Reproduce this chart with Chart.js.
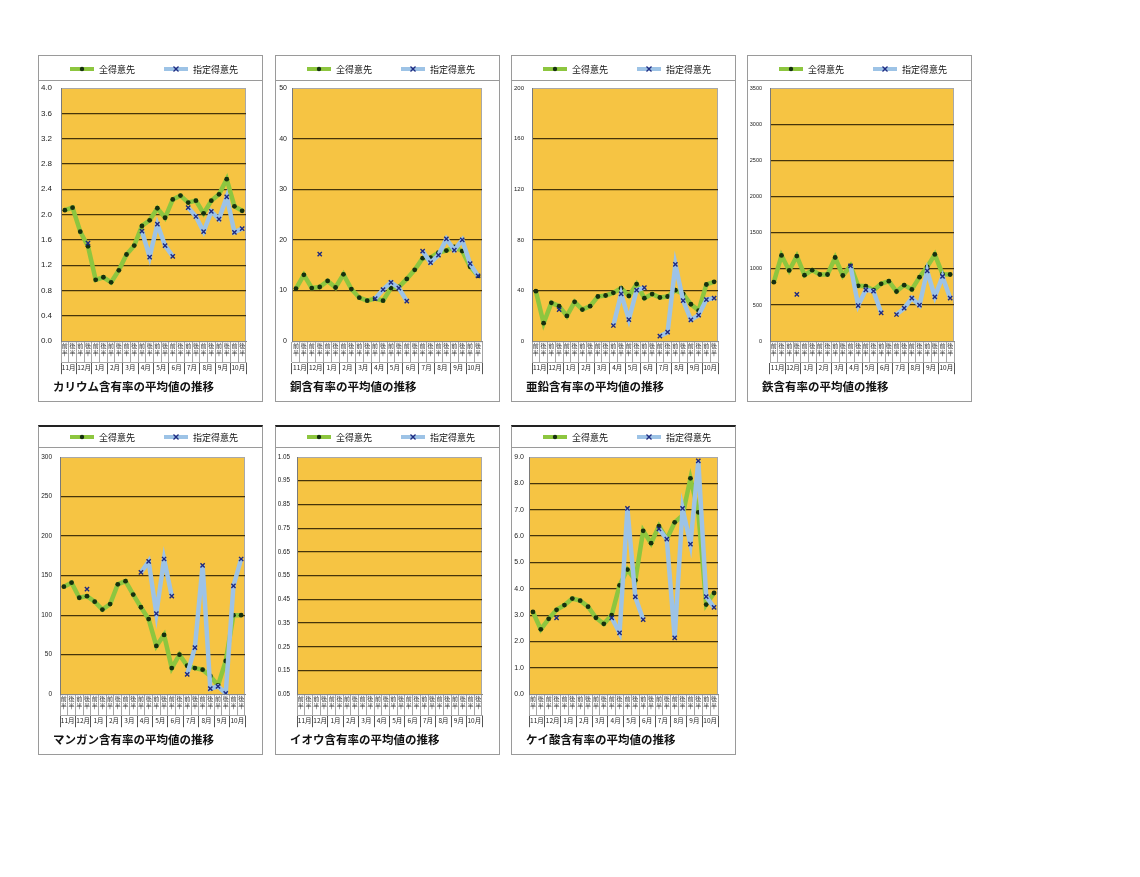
<!DOCTYPE html>
<html lang="ja">
<head>
  <meta charset="UTF-8" />
  <title>含有率の平均値の推移</title>
  <script src="https://cdn.jsdelivr.net/npm/chart.js"></script>
  <style>
    body {
      margin: 0;
      background: #fff;
      font-family: 'Liberation Sans', 'Noto Sans CJK JP', sans-serif;
    }
    .panel {
      position: absolute;
      border: 1px solid #9a9a9a;
      background: #fff;
    }
    .panel.row2 {
      border-top: 2px solid #222;
    }
    canvas { display: block; }
  </style>
</head>
<body>
  <div id="board"></div>

  <script>
    // 横軸（半月ごと、11月〜10月）
    const halfLabels = [
      ['前','半'], ['後','半'], ['前','半'], ['後','半'], ['前','半'], ['後','半'],
      ['前','半'], ['後','半'], ['前','半'], ['後','半'], ['前','半'], ['後','半'],
      ['前','半'], ['後','半'], ['前','半'], ['後','半'], ['前','半'], ['後','半'],
      ['前','半'], ['後','半'], ['前','半'], ['後','半'], ['前','半'], ['後','半']
    ];
    const monthLabels = ['11月','12月','1月','2月','3月','4月','5月','6月','7月','8月','9月','10月'];
    const seriesNames = ['全得意先', '指定得意先'];

    // カリウム
    const potassiumAll = [2.07, 2.11, 1.73, 1.50, 0.97, 1.01, 0.93, 1.12, 1.37, 1.51, 1.82, 1.91, 2.10, 1.95, 2.24, 2.30, 2.19, 2.22, 2.02, 2.22, 2.32, 2.56, 2.13, 2.06];
    const potassiumSel = [null, null, null, 1.55, null, null, null, null, null, null, 1.74, 1.33, 1.85, 1.51, 1.34, null, 2.11, 1.97, 1.73, 2.05, 1.93, 2.28, 1.72, 1.78];
    // 銅
    const copperAll = [10.4, 13.1, 10.5, 10.7, 11.9, 10.6, 13.2, 10.3, 8.6, 8.0, 8.4, 8.0, 10.5, 10.7, 12.3, 14.1, 16.4, 16.5, 17.5, 17.9, 18.6, 17.8, 14.7, 12.9];
    const copperSel = [null, null, null, 17.2, null, null, null, null, null, null, 8.4, 10.2, 11.6, 10.5, 7.9, null, 17.8, 15.5, 17.0, 20.2, 18.0, 20.0, 15.3, 12.9];
    // 亜鉛
    const zincAll = [39.5, 14.2, 30.3, 27.7, 20.0, 31.1, 25.0, 27.7, 35.3, 36.1, 38.2, 41.9, 35.8, 45.1, 34.0, 37.2, 34.5, 35.3, 40.3, 37.4, 29.2, 24.2, 44.8, 46.9];
    const zincSel = [null, null, null, 25.0, null, null, null, null, null, null, 12.4, 37.4, 17.1, 40.3, 42.4, null, 4.0, 7.1, 60.6, 32.1, 16.9, 20.6, 32.9, 34.0];
    // 鉄
    const ironAll = [816, 1185, 978, 1176, 913, 982, 922, 922, 1157, 908, 1042, 765, 761, 705, 793, 830, 687, 775, 715, 885, 1028, 1199, 927, 922];
    const ironSel = [null, null, null, 646, null, null, null, null, null, null, 1042, 493, 710, 692, 392, null, 369, 456, 595, 498, 973, 613, 895, 595];
    // マンガン
    const manganeseAll = [136, 141, 122, 124, 117, 107, 114, 139, 143, 126, 110, 95, 61, 75, 33, 50, 36, 33, 31, 23, 11, 42, 100, 100];
    const manganeseSel = [null, null, null, 133, null, null, null, null, null, null, 154, 168, 102, 171, 124, null, 25, 59, 163, 7, 10, 1, 137, 171];
    // イオウ（データなし）
    const sulfurAll = [];
    const sulfurSel = [];
    // ケイ酸
    const silicaAll = [3.12, 2.46, 2.86, 3.20, 3.38, 3.63, 3.55, 3.32, 2.90, 2.67, 3.00, 4.13, 4.73, 4.32, 6.20, 5.73, 6.38, 5.88, 6.52, 6.78, 8.19, 6.90, 3.40, 3.84];
    const silicaSel = [null, null, null, 2.90, null, null, null, null, null, null, 2.90, 2.33, 7.05, 3.69, 2.83, null, 6.27, 5.88, 2.14, 7.05, 5.69, 8.85, 3.70, 3.29];

    // 縦軸の目盛り
    const titles = ['カリウム含有率の平均値の推移', '銅含有率の平均値の推移', '亜鉛含有率の平均値の推移', '鉄含有率の平均値の推移',
                    'マンガン含有率の平均値の推移', 'イオウ含有率の平均値の推移', 'ケイ酸含有率の平均値の推移'];
    const yMin = [0, 0, 0, 0, 0, 0.05, 0];
    const yMax = [4.0, 50, 200, 3500, 300, 1.05, 9.0];
    const yStep = [0.4, 10, 40, 500, 50, 0.1, 1.0];
    const yDecimals = [1, 0, 0, 0, 0, 2, 1];

    const allSeries = [potassiumAll, copperAll, zincAll, ironAll, manganeseAll, sulfurAll, silicaAll];
    const selSeries = [potassiumSel, copperSel, zincSel, ironSel, manganeseSel, sulfurSel, silicaSel];

    // レイアウト
    const panelLeft = [38, 275, 511, 747, 38, 275, 511];
    const rowOf = [0, 0, 0, 0, 1, 1, 1];
    const rows = [
      { top: 55, height: 345, lineY: 24, textY: 13, plotTop: 32 },
      { top: 425, height: 327, lineY: 20, textY: 10, plotTop: 30 }
    ];
    const plotLeft = [22, 16, 20, 22, 21, 21, 17];
    const tickPad = [9, 5, 8, 8, 8, 7, 5];
    const tickSize = [8, 7, 6, 5.5, 6.5, 6.3, 7];

    const GREEN = '#8DC63F';
    const BLUE = '#9DC3E6';
    const DOT = '#16300f';
    const CROSS = '#1F2A80';
    const PLOT_BG = '#F6C443';

    // プロット領域の背景と枠
    const plotBackground = {
      id: 'plotBackground',
      beforeDraw(chart) {
        const { ctx, chartArea: a } = chart;
        ctx.save();
        ctx.fillStyle = PLOT_BG;
        ctx.fillRect(a.left, a.top, a.right - a.left, a.bottom - a.top);
        ctx.strokeStyle = '#a8a8a8';
        ctx.lineWidth = 1;
        ctx.strokeRect(a.left + 0.5, a.top + 0.5, a.right - a.left - 1, a.bottom - a.top);
        ctx.restore();
      }
    };

    // タイトルを少し右へ
    const titleIndent = {
      id: 'titleIndent',
      afterLayout(chart) {
        if (chart.titleBlock) chart.titleBlock.left = 14;
      }
    };

    // 上部の凡例（線＋マーカー）
    const topLegend = {
      id: 'topLegend',
      afterDraw(chart, args, opts) {
        const ctx = chart.ctx;
        const y = opts.textY;
        ctx.save();
        ctx.strokeStyle = '#9a9a9a';
        ctx.lineWidth = 1;
        ctx.beginPath();
        ctx.moveTo(0, opts.lineY + 0.5);
        ctx.lineTo(chart.width, opts.lineY + 0.5);
        ctx.stroke();

        const starts = [31, 125];
        chart.data.datasets.forEach((ds, i) => {
          const x0 = starts[i];
          ctx.strokeStyle = ds.borderColor;
          ctx.lineWidth = 4;
          ctx.beginPath();
          ctx.moveTo(x0, y);
          ctx.lineTo(x0 + 24, y);
          ctx.stroke();
          const cx = x0 + 12;
          if (ds.pointStyle === 'circle') {
            ctx.fillStyle = ds.pointBackgroundColor;
            ctx.beginPath();
            ctx.arc(cx, y, 2.2, 0, Math.PI * 2);
            ctx.fill();
          } else {
            ctx.strokeStyle = ds.pointBorderColor;
            ctx.lineWidth = 1.3;
            ctx.beginPath();
            ctx.moveTo(cx - 2.5, y - 2.5); ctx.lineTo(cx + 2.5, y + 2.5);
            ctx.moveTo(cx + 2.5, y - 2.5); ctx.lineTo(cx - 2.5, y + 2.5);
            ctx.stroke();
          }
          ctx.fillStyle = '#111';
          ctx.font = "9px 'Noto Sans CJK JP'";
          ctx.textBaseline = 'middle';
          ctx.fillText(ds.label, x0 + 29, y + 0.5);
        });
        ctx.restore();
      }
    };

    const board = document.getElementById('board');

    titles.forEach((title, k) => {
      const row = rows[rowOf[k]];
      const panel = document.createElement('div');
      panel.className = 'panel' + (rowOf[k] === 1 ? ' row2' : '');
      panel.style.left = panelLeft[k] + 'px';
      panel.style.top = row.top + 'px';
      const canvas = document.createElement('canvas');
      canvas.width = 223;
      canvas.height = row.height;
      panel.appendChild(canvas);
      board.appendChild(panel);

      const dec = yDecimals[k];
      const top = yMax[k];

      new Chart(canvas, {
        type: 'line',
        data: {
          labels: halfLabels,
          datasets: [{
            label: seriesNames[0],
            data: allSeries[k],
            borderColor: GREEN,
            borderWidth: 4.5,
            pointStyle: 'circle',
            pointRadius: 2.4,
            pointBackgroundColor: DOT,
            pointBorderColor: DOT,
            pointBorderWidth: 0,
            order: 1,
            xAxisID: 'x'
          }, {
            label: seriesNames[1],
            data: selSeries[k],
            borderColor: BLUE,
            borderWidth: 4.5,
            pointStyle: 'crossRot',
            pointRadius: 3,
            pointBorderColor: CROSS,
            pointBorderWidth: 1.4,
            order: 0,
            xAxisID: 'x'
          }]
        },
        options: {
          responsive: false,
          animation: false,
          events: [],
          spanGaps: false,
          layout: { padding: { top: row.plotTop, left: 0, right: k === 0 ? 16 : 17, bottom: 0 } },
          scales: {
            x: {
              type: 'category',
              offset: true,
              grid: { offset: true, drawOnChartArea: false, drawTicks: true, tickLength: 21, color: '#a6a6a6' },
              border: { display: true, color: '#8a8a8a' },
              ticks: { autoSkip: false, maxRotation: 0, minRotation: 0, padding: -20,
                       font: { size: 6, family: "'Noto Sans CJK JP'" }, color: '#333' },
              afterFit: s => { s.height = 21; }
            },
            x2: {
              type: 'category',
              position: 'bottom',
              labels: monthLabels,
              offset: true,
              grid: { offset: true, drawOnChartArea: false, drawTicks: true, tickLength: 12, color: '#555' },
              border: { display: true, color: '#a6a6a6' },
              ticks: { autoSkip: false, maxRotation: 0, minRotation: 0, padding: -11,
                       font: { size: 6.5, family: "'Noto Sans CJK JP'" }, color: '#222' },
              afterFit: s => { s.height = 12; }
            },
            y: {
              min: yMin[k],
              max: yMax[k],
              ticks: {
                stepSize: yStep[k],
                precision: dec,
                padding: tickPad[k],
                font: { size: tickSize[k] },
                color: '#222',
                callback: v => Number(v).toFixed(dec)
              },
              grid: {
                drawTicks: false,
                lineWidth: 1.2,
                color: c => (c.index === 0 || Math.abs(c.tick.value - top) < 1e-9) ? 'rgba(0,0,0,0)' : '#46340a'
              },
              border: { display: true, color: '#7a7a7a' },
              afterFit: s => { s.width = plotLeft[k]; }
            }
          },
          plugins: {
            legend: { display: false },
            tooltip: { enabled: false },
            title: {
              display: true,
              text: title,
              position: 'bottom',
              align: 'start',
              color: '#111',
              font: { size: 11.5, weight: 'bold', family: "'Noto Sans CJK JP'" },
              padding: { top: 6, bottom: 7 }
            },
            topLegend: { lineY: row.lineY, textY: row.textY }
          }
        },
        plugins: [plotBackground, titleIndent, topLegend]
      });
    });
  </script>
</body>
</html>
